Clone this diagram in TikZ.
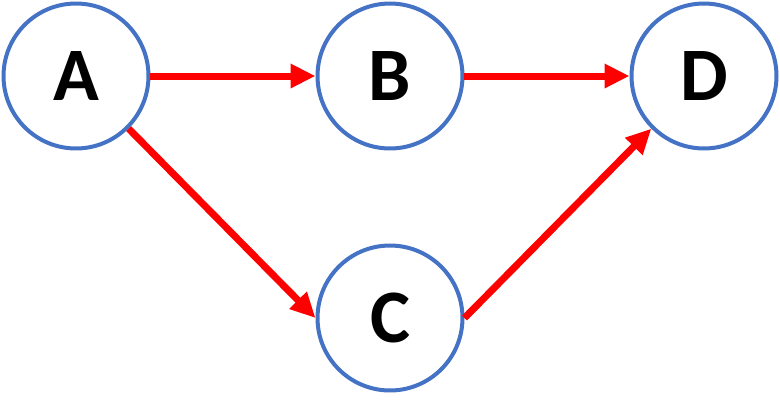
\documentclass[tikz,border=0pt]{standalone}
\usepackage{fontspec}
\setmainfont{Carlito}
\usetikzlibrary{arrows.meta}
\definecolor{ringblue}{RGB}{68,114,196}
\tikzset{
  vertex/.style={draw=ringblue, line width=0.08cm, circle, fill=white,
    minimum size=2.9cm, inner sep=0pt, font=\fontsize{43}{43}\selectfont\bfseries},
  edge/.style={draw=red, line width=0.14cm,
    -{Triangle[length=0.5cm, width=0.46cm]}}
}
\begin{document}
\begin{tikzpicture}[x=0.02cm, y=-0.02cm]
  \useasboundingbox (0,0) rectangle (780,410);
  \node[vertex] (A) at (76,76) {A};
  \node[vertex] (B) at (390,76) {B};
  \node[vertex] (D) at (704,76) {D};
  \node[vertex] (C) at (390,318) {C};
  % connectors
  \draw[edge] (A.east) -- (B.west);
  \draw[edge] (B.east) -- (D.west);
  \draw[edge] (A.south east) -- (C.west);
  \draw[edge] (C.east) -- (D.south west);
\end{tikzpicture}
\end{document}
